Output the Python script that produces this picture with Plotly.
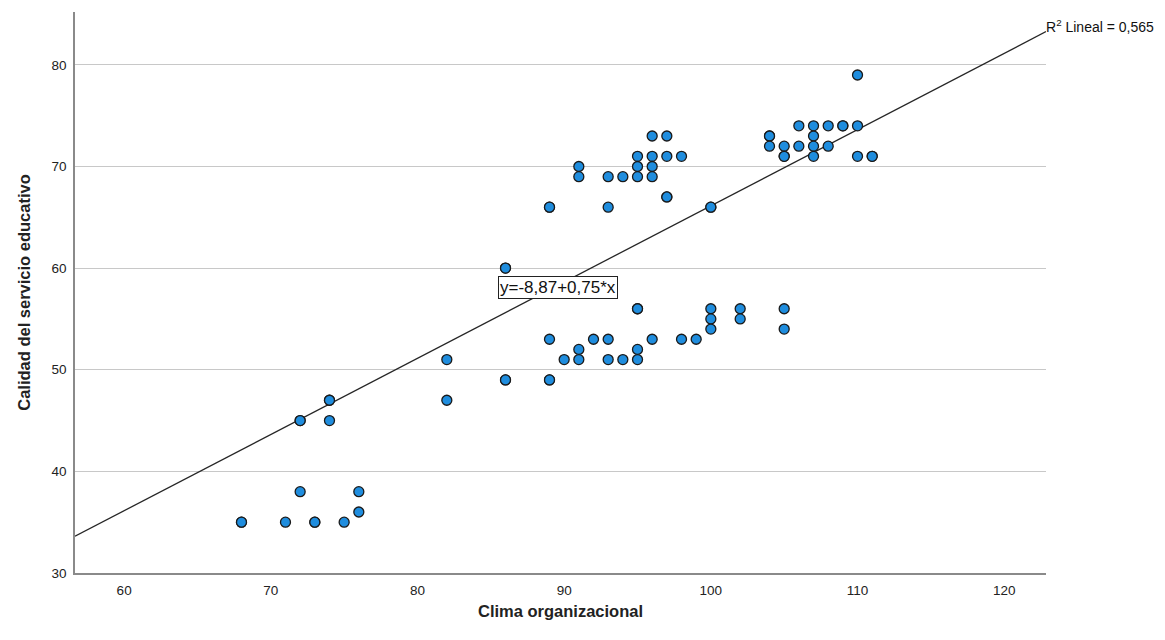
import plotly.graph_objects as go

# Data (x = Clima organizacional, y = Calidad del servicio educativo)
clima = [68, 68, 71, 72, 72, 72, 73, 73, 74, 74, 74, 75, 76, 76,
         82, 82, 86, 86, 86, 86, 89, 89, 89, 89, 89, 90,
         91, 91, 91, 91, 92, 93, 93, 93, 93, 94, 94,
         95, 95, 95, 95, 95, 95, 95, 96, 96, 96, 96, 96,
         97, 97, 97, 97, 98, 98, 99, 100, 100, 100, 100, 100,
         102, 102, 104, 104, 104, 105, 105, 105, 105, 105,
         106, 106, 107, 107, 107, 107, 108, 108, 109, 109,
         110, 110, 110, 111, 111]
calidad = [35, 35, 35, 45, 45, 38, 35, 35, 47, 47, 45, 35, 38, 36,
           51, 47, 60, 60, 49, 49, 66, 66, 53, 49, 49, 51,
           70, 69, 52, 51, 53, 69, 66, 53, 51, 69, 51,
           71, 70, 69, 56, 56, 52, 51, 73, 71, 70, 69, 53,
           73, 71, 67, 67, 71, 53, 53, 66, 66, 56, 55, 54,
           56, 55, 73, 73, 72, 72, 71, 71, 56, 54,
           74, 72, 74, 73, 72, 71, 74, 72, 74, 74,
           79, 74, 71, 71, 71]

intercept = -8.87
slope = 0.75
r2_label = "R<sup>2</sup> Lineal = 0,565"
eq_label = "y=-8,87+0,75*x"

x_range = [56.65, 122.85]
y_range = [30, 85.2]
x_ticks = [60, 70, 80, 90, 100, 110, 120]
y_ticks = [30, 40, 50, 60, 70, 80]

line_x = x_range
line_y = [intercept + slope * v for v in line_x]

fig = go.Figure()
fig.add_trace(go.Scatter(
    x=line_x, y=line_y, mode="lines",
    line=dict(color="#262626", width=1.3),
    hoverinfo="skip", showlegend=False, cliponaxis=False))
fig.add_trace(go.Scatter(
    x=clima, y=calidad, mode="markers",
    marker=dict(size=10, color="#1F8DDE", line=dict(color="#1a1a1a", width=1.3)),
    showlegend=False))

fig.add_annotation(x=line_x[1], y=line_y[1], xref="x", yref="y",
                   text=r2_label, showarrow=False, xanchor="left", yanchor="middle",
                   yshift=6, xshift=-2,
                   font=dict(family="Arial", size=14, color="#111"))
fig.add_annotation(x=85.5, y=58.1, xref="x", yref="y",
                   text=eq_label, showarrow=False, xanchor="left", yanchor="middle",
                   bgcolor="white", bordercolor="#222", borderwidth=1, borderpad=1,
                   font=dict(family="Arial", size=17, color="#111"))

# The page body adds an 8 px offset; size the figure so the plot area lands as in the reference
fig.update_layout(
    width=1157, height=632,
    margin=dict(l=67, r=119, t=4, b=67),
    plot_bgcolor="white", paper_bgcolor="white",
    font=dict(family="Arial", size=13.5, color="#222"),
    xaxis=dict(range=x_range, tickvals=x_ticks, showgrid=False, zeroline=False,
               showline=True, linecolor="#8a8a8a", linewidth=1.5, ticks="",
               tickfont=dict(size=13.5), ticklabelstandoff=4, automargin=False,
               title=dict(text="<b>Clima organizacional</b>", font=dict(size=16.5), standoff=8)),
    yaxis=dict(range=y_range, tickvals=y_ticks, showgrid=True, gridcolor="#c8c8c8",
               gridwidth=1, zeroline=False, showline=True, linecolor="#8a8a8a",
               linewidth=1.5, ticks="", tickfont=dict(size=13.5), ticklabelstandoff=4,
               automargin=False,
               title=dict(text="<b>Calidad del servicio educativo</b>", font=dict(size=16.5), standoff=17)),
)

fig.write_html("out.html")
